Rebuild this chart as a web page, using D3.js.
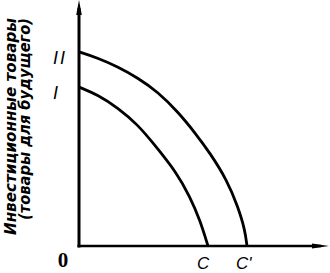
<!DOCTYPE html>
<html>
<head>
<meta charset="utf-8">
<script src="https://cdn.jsdelivr.net/npm/d3@7/dist/d3.min.js"></script>
<style>
  html, body { margin: 0; padding: 0; background: #fff; }
  svg { display: block; }
  text { fill: #000; }
</style>
</head>
<body>
<svg id="chart" width="330" height="273"></svg>
<script>
// curve points (x = consumer goods, y = investment goods)
const outerX = [0, 7.6, 15.6, 23.6, 31.6, 39.6, 46.8, 52.4, 59.2, 63.6, 66.4, 67.2];
const outerY = [78.9, 76.4, 72.8, 68.3, 62.6, 54.5, 45.5, 37.8, 26.8, 15.9, 6.5, 0];
const innerX = [0, 7.6, 15.6, 23.6, 29.6, 39.2, 44.4, 48.4, 51.6];
const innerY = [64.6, 61.4, 56.1, 49.2, 41.9, 29.7, 19.9, 10.6, 0];

const curveLabels = ['I', 'II'];
const xLabels = ['C', "C'"];
const yTitle = ['Инвестиционные товары', '(товары для будущего)'];

const svg = d3.select('#chart');
const g = svg.append('g');

const x = d3.scaleLinear().domain([0, 100]).range([79, 329]);
const y = d3.scaleLinear().domain([0, 100]).range([246, 0]);

// axes with arrows
g.append('line')
    .attr('x1', x(0)).attr('y1', y(0) + 1.5)
    .attr('x2', x(0)).attr('y2', y(100) + 8)
    .attr('stroke', '#000').attr('stroke-width', 3);
g.append('path')
    .attr('d', `M${x(0)},${y(100)}L${x(0) - 2.8},${y(100) + 15}L${x(0) + 2.8},${y(100) + 15}Z`)
    .attr('fill', '#000');

g.append('line')
    .attr('x1', x(0) - 1.5).attr('y1', y(0))
    .attr('x2', x(100) - 8).attr('y2', y(0))
    .attr('stroke', '#000').attr('stroke-width', 2.6);
g.append('path')
    .attr('d', `M${x(100)},${y(0)}L${x(100) - 17},${y(0) - 2.5}L${x(100) - 17},${y(0) + 2.5}Z`)
    .attr('fill', '#000');

// production possibility curves
const line = d3.line()
    .x(d => x(d[0]))
    .y(d => y(d[1]))
    .curve(d3.curveBasis);

const curves = [d3.zip(innerX, innerY), d3.zip(outerX, outerY)];

g.selectAll('path.ppf')
    .data(curves)
    .join('path')
    .attr('class', 'ppf')
    .attr('d', line)
    .attr('fill', 'none')
    .attr('stroke', '#000')
    .attr('stroke-width', 2.8);

// labels on y axis (I, II)
g.selectAll('text.cl')
    .data(curves)
    .join('text')
    .attr('class', 'cl')
    .attr('x', 53)
    .attr('y', d => y(d[0][1]) + 12)
    .attr('font-family', 'Liberation Sans, sans-serif')
    .attr('font-style', 'italic')
    .attr('font-size', 18)
    .attr('textLength', (d, i) => i ? 12 : 6)
    .attr('lengthAdjust', 'spacing')
    .text((d, i) => curveLabels[i]);

// labels on x axis (C, C')
g.selectAll('text.xl')
    .data(curves)
    .join('text')
    .attr('class', 'xl')
    .attr('x', d => x(d[d.length - 1][0]) - 11)
    .attr('y', 269)
    .attr('font-family', 'Liberation Sans, sans-serif')
    .attr('font-style', 'italic')
    .attr('font-size', 17)
    .text((d, i) => xLabels[i]);

// origin
g.append('text')
    .attr('x', 63)
    .attr('y', 267)
    .attr('text-anchor', 'middle')
    .attr('font-family', 'Liberation Serif, serif')
    .attr('font-weight', 'bold')
    .attr('font-size', 21)
    .text('0');

// y axis title, two rotated lines
const titleSpan = [[235, 18, 16], [220, 18, 30]];
g.selectAll('text.yt')
    .data(yTitle)
    .join('text')
    .attr('class', 'yt')
    .attr('transform', (d, i) => `translate(${titleSpan[i][2]},${titleSpan[i][0]}) rotate(-90)`)
    .attr('font-family', 'DejaVu Sans, sans-serif')
    .attr('font-weight', 'bold')
    .attr('font-style', 'italic')
    .attr('font-size', 15)
    .attr('textLength', (d, i) => titleSpan[i][0] - titleSpan[i][1])
    .attr('lengthAdjust', 'spacingAndGlyphs')
    .text(d => d);
</script>
</body>
</html>
